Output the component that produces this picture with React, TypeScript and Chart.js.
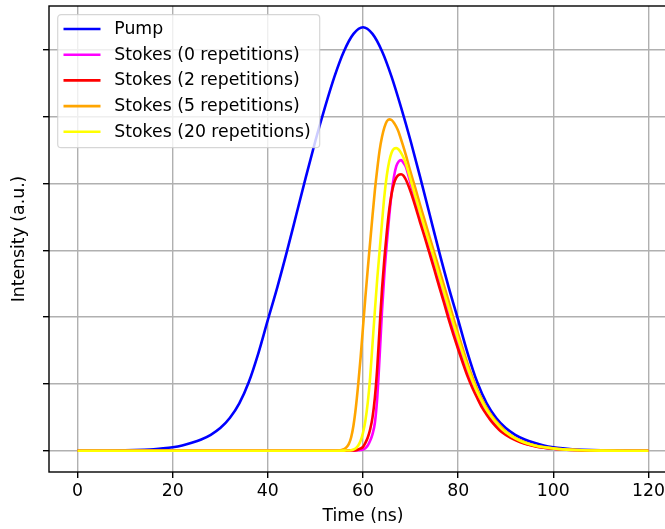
import React, { useEffect, useRef } from "react";
import { Chart, registerables } from "chart.js";

Chart.register(...registerables);

// ---- tick labels / text ----
const xTicks = [0, 20, 40, 60, 80, 100, 120];
const yTicks = [0, 1, 2, 3, 4, 5, 6];
const seriesLabels = [
  "Pump",
  "Stokes (0 repetitions)",
  "Stokes (2 repetitions)",
  "Stokes (5 repetitions)",
  "Stokes (20 repetitions)",
];
const seriesColors = ["#0000ff", "#ff00ff", "#ff0000", "#ffa500", "#ffff00"];

// ---- series values (time in ns, intensity in a.u.) ----
const pumpTime = [
  0, 2, 4, 6, 8, 10, 12, 14, 16, 18, 20, 22, 24, 26, 28, 30, 32, 34, 36, 38, 40,
  42, 44, 46, 48, 50, 52, 54, 56, 58, 60, 62, 64, 66, 68, 70, 72, 74, 76, 78, 80,
  82, 84, 86, 88, 90, 92, 94, 96, 98, 100, 102, 104, 106, 108, 110, 112, 114, 116, 118, 120,
];
const pumpIntensity = [
  0, 0.0005, 0.001, 0.002, 0.0035, 0.006, 0.01, 0.016, 0.024, 0.036, 0.053, 0.08, 0.12, 0.17, 0.24, 0.34, 0.49, 0.71, 1.03, 1.46, 1.96,
  2.45, 2.98, 3.54, 4.1, 4.64, 5.14, 5.6, 5.98, 6.24, 6.34, 6.24, 5.98, 5.6, 5.14, 4.64, 4.1, 3.54, 2.98, 2.45, 1.96,
  1.46, 1.03, 0.71, 0.49, 0.34, 0.24, 0.17, 0.12, 0.08, 0.053, 0.036, 0.024, 0.016, 0.01, 0.006, 0.0035, 0.002, 0.001, 0.0005, 0,
];

const stokesTime = [
  0, 50,
  55, 55.5, 56, 56.5, 57, 57.5, 58, 58.5, 59, 59.5, 60, 60.5, 61, 61.5, 62, 62.5, 63, 63.5, 64, 64.5, 65, 65.5, 66, 66.5, 67, 67.5, 68, 68.5, 69,
  70, 71, 72, 73, 74, 75, 76, 77, 78, 79, 80, 81, 82, 83, 84, 85, 86, 87, 88, 89, 90,
  92, 94, 96, 98, 100, 102, 104, 106, 108, 110,
  115, 120,
];
const stokes0Intensity = [
  0, 0,
  0.0005, 0.001, 0.0015, 0.002, 0.003, 0.004, 0.004, 0.005, 0.008, 0.013, 0.02, 0.04, 0.08, 0.15, 0.25, 0.42, 0.8, 1.42, 2.1, 2.66, 3.1, 3.5, 3.85, 4.1, 4.26, 4.33, 4.35, 4.31, 4.25,
  4.0, 3.77, 3.53, 3.29, 3.03, 2.79, 2.54, 2.29, 2.04, 1.8, 1.58, 1.37, 1.17, 0.99, 0.83, 0.69, 0.57, 0.47, 0.39, 0.32, 0.26,
  0.17, 0.11, 0.075, 0.048, 0.032, 0.02, 0.013, 0.008, 0.005, 0.002,
  0.0005, 0,
];
const stokes2Intensity = [
  0, 0,
  0.0005, 0.001, 0.0015, 0.002, 0.003, 0.004, 0.005, 0.01, 0.02, 0.035, 0.06, 0.12, 0.2, 0.32, 0.5, 0.8, 1.25, 1.85, 2.42, 2.88, 3.27, 3.6, 3.84, 4.0, 4.09, 4.13, 4.14, 4.12, 4.06,
  3.88, 3.66, 3.42, 3.19, 2.95, 2.71, 2.46, 2.22, 1.97, 1.74, 1.52, 1.31, 1.11, 0.94, 0.79, 0.65, 0.54, 0.44, 0.36, 0.29, 0.24,
  0.16, 0.105, 0.07, 0.045, 0.03, 0.019, 0.012, 0.007, 0.004, 0.002,
  0.0005, 0,
];
const stokes5Intensity = [
  0, 0,
  0.005, 0.012, 0.025, 0.05, 0.1, 0.2, 0.38, 0.65, 1.0, 1.4, 1.85, 2.3, 2.72, 3.12, 3.52, 3.9, 4.22, 4.5, 4.7, 4.84, 4.93, 4.96, 4.95, 4.91, 4.85, 4.77, 4.66, 4.55, 4.43,
  4.17, 3.93, 3.68, 3.44, 3.2, 2.96, 2.72, 2.48, 2.24, 1.99, 1.75, 1.52, 1.3, 1.1, 0.92, 0.77, 0.64, 0.53, 0.44, 0.36, 0.29,
  0.19, 0.13, 0.085, 0.056, 0.037, 0.024, 0.015, 0.009, 0.005, 0.003,
  0.0005, 0,
];
const stokes20Intensity = [
  0, 0,
  0.001, 0.002, 0.003, 0.004, 0.005, 0.01, 0.02, 0.04, 0.08, 0.15, 0.27, 0.45, 0.72, 1.1, 1.6, 2.1, 2.58, 3.0, 3.42, 3.82, 4.12, 4.33, 4.46, 4.52, 4.53, 4.51, 4.46, 4.39, 4.3,
  4.06, 3.81, 3.57, 3.33, 3.1, 2.87, 2.62, 2.38, 2.14, 1.9, 1.67, 1.45, 1.24, 1.05, 0.88, 0.74, 0.61, 0.51, 0.42, 0.34, 0.28,
  0.185, 0.12, 0.08, 0.053, 0.035, 0.022, 0.014, 0.008, 0.005, 0.003,
  0.0005, 0,
];

const seriesTimes = [pumpTime, stokesTime, stokesTime, stokesTime, stokesTime];
const seriesValues = [pumpIntensity, stokes0Intensity, stokes2Intensity, stokes5Intensity, stokes20Intensity];

const FONT = "DejaVu Sans";
const FS = 17.3;

const spinesPlugin = {
  id: "spines",
  afterDatasetsDraw(chart: any) {
    const { ctx, chartArea } = chart;
    const { left, top, right, bottom } = chartArea;
    ctx.save();
    ctx.strokeStyle = "#000";
    ctx.lineWidth = 1.4;
    ctx.strokeRect(left, top, right - left, bottom - top);
    ctx.restore();
  },
};

const legendPlugin = {
  id: "mplLegend",
  afterDraw(chart: any) {
    const { ctx, chartArea } = chart;
    const bx = chartArea.left + 8.7;
    const by = chartArea.top + 8.7;
    const bw = 262;
    const bh = 133;
    const r = 3.5;
    ctx.save();
    ctx.beginPath();
    ctx.moveTo(bx + r, by);
    ctx.lineTo(bx + bw - r, by);
    ctx.arcTo(bx + bw, by, bx + bw, by + r, r);
    ctx.lineTo(bx + bw, by + bh - r);
    ctx.arcTo(bx + bw, by + bh, bx + bw - r, by + bh, r);
    ctx.lineTo(bx + r, by + bh);
    ctx.arcTo(bx, by + bh, bx, by + bh - r, r);
    ctx.lineTo(bx, by + r);
    ctx.arcTo(bx, by, bx + r, by, r);
    ctx.closePath();
    ctx.fillStyle = "rgba(255,255,255,0.8)";
    ctx.fill();
    ctx.strokeStyle = "rgba(204,204,204,0.8)";
    ctx.lineWidth = 1.2;
    ctx.stroke();

    ctx.font = `${FS}px "${FONT}"`;
    ctx.textBaseline = "middle";
    ctx.textAlign = "left";
    seriesLabels.forEach((label, i) => {
      const y = by + 14.3 + i * 25.7;
      ctx.beginPath();
      ctx.moveTo(bx + 5.8, y);
      ctx.lineTo(bx + 42.8, y);
      ctx.strokeStyle = seriesColors[i];
      ctx.lineWidth = 2.6;
      ctx.lineCap = "butt";
      ctx.stroke();
      ctx.fillStyle = "#000";
      ctx.fillText(label, bx + 56.6, y + 0.5);
    });
    ctx.restore();
  },
};

export default function App() {
  const canvasRef = useRef<HTMLCanvasElement | null>(null);

  useEffect(() => {
    const canvas = canvasRef.current;
    if (!canvas) return;

    const datasets = seriesLabels.map((label, i) => ({
      label,
      data: seriesTimes[i].map((t, j) => ({ x: t, y: seriesValues[i][j] })),
      borderColor: seriesColors[i],
      backgroundColor: seriesColors[i],
      borderWidth: 2.6,
      pointRadius: 0,
      fill: false,
      cubicInterpolationMode: "monotone" as const,
      order: seriesLabels.length - i,
    }));

    const chart = new Chart(canvas, {
      type: "line",
      data: { datasets },
      options: {
        animation: false,
        responsive: false,
        devicePixelRatio: 1,
        layout: { padding: { left: 0, top: 6, right: 23, bottom: 0 } },
        plugins: {
          legend: { display: false },
          tooltip: { enabled: false },
        },
        scales: {
          x: {
            type: "linear",
            min: -6,
            max: 126,
            bounds: "data",
            afterBuildTicks: (s: any) => {
              s.ticks = xTicks.map((v) => ({ value: v }));
            },
            afterFit: (s: any) => {
              s.height = 57;
            },
            ticks: {
              font: { family: FONT, size: FS },
              color: "#000",
              padding: 3,
              maxRotation: 0,
              autoSkip: false,
              callback: (v: any) => String(v),
            },
            grid: {
              color: "#b0b0b0",
              lineWidth: 1.4,
              tickColor: "#000",
              tickLength: 6,
              tickWidth: 1.4,
            },
            border: { display: false },
            title: {
              display: true,
              text: "Time (ns)",
              color: "#000",
              font: { family: FONT, size: FS },
              padding: { top: 0, bottom: 2 },
            },
          },
          y: {
            type: "linear",
            min: -0.317,
            max: 6.657,
            bounds: "data",
            afterBuildTicks: (s: any) => {
              s.ticks = yTicks.map((v) => ({ value: v }));
            },
            afterFit: (s: any) => {
              s.width = 49;
            },
            ticks: { display: false },
            grid: {
              color: "#b0b0b0",
              lineWidth: 1.4,
              tickColor: "#000",
              tickLength: 6,
              tickWidth: 1.4,
            },
            border: { display: false },
            title: {
              display: true,
              text: "Intensity (a.u.)",
              color: "#000",
              font: { family: FONT, size: FS },
              padding: { top: 9.6, bottom: 0 },
            },
          },
        },
      },
      plugins: [spinesPlugin, legendPlugin],
    });

    return () => chart.destroy();
  }, []);

  return (
    <div
      style={{
        position: "fixed",
        left: 0,
        top: 0,
        width: 665,
        height: 529,
        overflow: "hidden",
        background: "#fff",
      }}
    >
      <canvas ref={canvasRef} width={700} height={529} style={{ display: "block", width: 700, height: 529 }} />
    </div>
  );
}
